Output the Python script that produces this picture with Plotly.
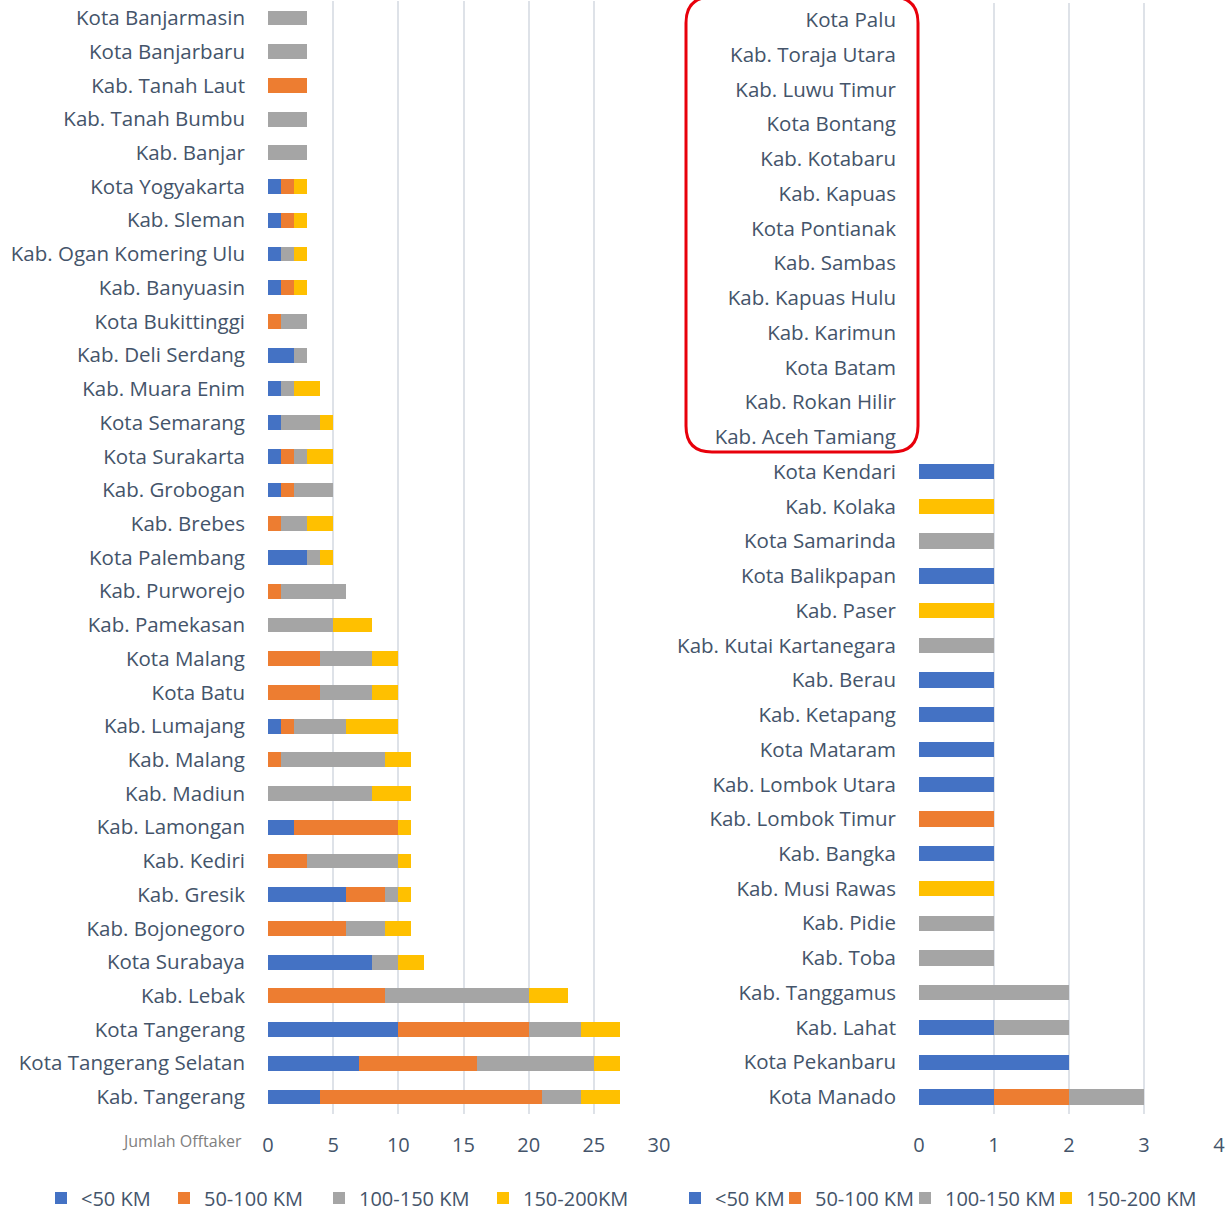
import plotly.graph_objects as go

# ---------------- data ----------------
left_categories = [
    "Kota Banjarmasin", "Kota Banjarbaru", "Kab. Tanah Laut", "Kab. Tanah Bumbu", "Kab. Banjar",
    "Kota Yogyakarta", "Kab. Sleman", "Kab. Ogan Komering Ulu", "Kab. Banyuasin", "Kota Bukittinggi",
    "Kab. Deli Serdang", "Kab. Muara Enim", "Kota Semarang", "Kota Surakarta", "Kab. Grobogan",
    "Kab. Brebes", "Kota Palembang", "Kab. Purworejo", "Kab. Pamekasan", "Kota Malang",
    "Kota Batu", "Kab. Lumajang", "Kab. Malang", "Kab. Madiun", "Kab. Lamongan",
    "Kab. Kediri", "Kab. Gresik", "Kab. Bojonegoro", "Kota Surabaya", "Kab. Lebak",
    "Kota Tangerang", "Kota Tangerang Selatan", "Kab. Tangerang",
]
left_lt50 =    [0, 0, 0, 0, 0, 1, 1, 1, 1, 0, 2, 1, 1, 1, 1, 0, 3, 0, 0, 0, 0, 1, 0, 0, 2, 0, 6, 0, 8, 0, 10, 7, 4]
left_50_100 =  [0, 0, 3, 0, 0, 1, 1, 0, 1, 1, 0, 0, 0, 1, 1, 1, 0, 1, 0, 4, 4, 1, 1, 0, 8, 3, 3, 6, 0, 9, 10, 9, 17]
left_100_150 = [3, 3, 0, 3, 3, 0, 0, 1, 0, 2, 1, 1, 3, 1, 3, 2, 1, 5, 5, 4, 4, 4, 8, 8, 0, 7, 1, 3, 2, 11, 4, 9, 3]
left_150_200 = [0, 0, 0, 0, 0, 1, 1, 1, 1, 0, 0, 2, 1, 2, 0, 2, 1, 0, 3, 2, 2, 4, 2, 3, 1, 1, 1, 2, 2, 3, 3, 2, 3]

right_categories = [
    "Kota Palu", "Kab. Toraja Utara", "Kab. Luwu Timur", "Kota Bontang", "Kab. Kotabaru",
    "Kab. Kapuas", "Kota Pontianak", "Kab. Sambas", "Kab. Kapuas Hulu", "Kab. Karimun",
    "Kota Batam", "Kab. Rokan Hilir", "Kab. Aceh Tamiang", "Kota Kendari", "Kab. Kolaka",
    "Kota Samarinda", "Kota Balikpapan", "Kab. Paser", "Kab. Kutai Kartanegara", "Kab. Berau",
    "Kab. Ketapang", "Kota Mataram", "Kab. Lombok Utara", "Kab. Lombok Timur", "Kab. Bangka",
    "Kab. Musi Rawas", "Kab. Pidie", "Kab. Toba", "Kab. Tanggamus", "Kab. Lahat",
    "Kota Pekanbaru", "Kota Manado",
]
right_lt50 =    [0]*13 + [1, 0, 0, 1, 0, 0, 1, 1, 1, 1, 0, 1, 0, 0, 0, 0, 1, 2, 1]
right_50_100 =  [0]*13 + [0, 0, 0, 0, 0, 0, 0, 0, 0, 0, 1, 0, 0, 0, 0, 0, 0, 0, 1]
right_100_150 = [0]*13 + [0, 0, 1, 0, 0, 1, 0, 0, 0, 0, 0, 0, 0, 1, 1, 2, 1, 0, 1]
right_150_200 = [0]*13 + [0, 1, 0, 0, 1, 0, 0, 0, 0, 0, 0, 0, 1, 0, 0, 0, 0, 0, 0]

left_names = ["<50 KM", "50-100 KM", "100-150 KM", "150-200KM"]
right_names = ["<50 KM", "50-100 KM", "100-150 KM", "150-200 KM"]
left_ticks = [0, 5, 10, 15, 20, 25, 30]
right_ticks = [0, 1, 2, 3, 4]
axis_note = "Jumlah Offtaker"

# ---------------- style ----------------
W, H = 1226, 1209
colors = ["#4472C4", "#ED7D31", "#A5A5A5", "#FFC000"]
FONT = "Open Sans"
TXT = "#44546A"
GRID = "#DEE2E8"

left_vals = [left_lt50, left_50_100, left_100_150, left_150_200]
right_vals = [right_lt50, right_50_100, right_100_150, right_150_200]
left_lw = [78, 110, 119, 110]
right_lw = [55, 85, 96, 130]

fig = go.Figure()
for i in range(4):
    fig.add_trace(go.Bar(
        y=left_categories, x=left_vals[i], name=left_names[i], orientation="h",
        marker=dict(color=colors[i], line=dict(width=0)),
        xaxis="x", yaxis="y", legend="legend", legendwidth=left_lw[i],
    ))
for i in range(4):
    fig.add_trace(go.Bar(
        y=right_categories, x=right_vals[i], name=right_names[i], orientation="h",
        marker=dict(color=colors[i], line=dict(width=0)),
        xaxis="x2", yaxis="y2", legend="legend2", legendwidth=right_lw[i],
    ))

def px_x(p):
    return p / W

def px_y(p):
    return 1 - p / H

# domains
lrow = (1097 - 18) / 32
rrow = (1097 - 20) / 31
ly0, ly1 = px_y(1097 + lrow / 2), px_y(18 - lrow / 2)
ry0, ry1 = px_y(1097 + rrow / 2), px_y(20 - rrow / 2)

common_x = dict(showgrid=True, gridcolor=GRID, gridwidth=2, zeroline=False, showline=False,
                ticks="", ticklabelstandoff=17,
                tickfont=dict(family=FONT, size=20, color=TXT))
common_y = dict(type="category", autorange="reversed", showgrid=False, zeroline=False,
                showline=False, ticks="", ticklabelstandoff=22,
                tickfont=dict(family=FONT, size=20.5, color=TXT))

fig.update_layout(
    width=W, height=H,
    margin=dict(l=0, r=0, t=0, b=0, autoexpand=False),
    paper_bgcolor="white", plot_bgcolor="white",
    barmode="stack", bargap=0.56,
    font=dict(family=FONT, color=TXT),
    xaxis=dict(domain=[px_x(268), px_x(659)], range=[0, 30], tickvals=left_ticks,
               anchor="y", **common_x),
    yaxis=dict(domain=[ly0, ly1], anchor="x", **common_y),
    xaxis2=dict(domain=[px_x(919), px_x(1219)], range=[0, 4], tickvals=right_ticks,
                anchor="y2", **common_x),
    yaxis2=dict(domain=[ry0, ry1], anchor="x2", **common_y),
    legend=dict(orientation="h", x=px_x(41), xanchor="left", y=px_y(1198), yanchor="middle",
                font=dict(family=FONT, size=20, color=TXT), bgcolor="rgba(0,0,0,0)",
                traceorder="normal", itemclick=False),
    legend2=dict(orientation="h", x=px_x(675), xanchor="left", y=px_y(1198), yanchor="middle",
                 font=dict(family=FONT, size=20, color=TXT), bgcolor="rgba(0,0,0,0)",
                 traceorder="normal", itemclick=False),
    showlegend=True,
)

fig.add_annotation(text=axis_note, xref="paper", yref="paper", x=px_x(244), y=px_y(1141),
                   xanchor="right", yanchor="middle", showarrow=False,
                   font=dict(family=FONT, size=16, color="#808080"))

# red rounded highlight box around the empty categories
x0, x1 = px_x(686), px_x(918)
y0, y1 = px_y(452), px_y(-3)
rx, ry = 26 / W, 26 / H
path = (f"M{x0 + rx},{y1} L{x1 - rx},{y1} Q{x1},{y1} {x1},{y1 - ry} "
        f"L{x1},{y0 + ry} Q{x1},{y0} {x1 - rx},{y0} L{x0 + rx},{y0} "
        f"Q{x0},{y0} {x0},{y0 + ry} L{x0},{y1 - ry} Q{x0},{y1} {x0 + rx},{y1} Z")
fig.add_shape(type="path", path=path, xref="paper", yref="paper",
              line=dict(color="#E8000B", width=3), fillcolor="rgba(0,0,0,0)")

fig.write_html("out.html", config={"displayModeBar": False},
               post_script="document.body.style.margin='0';")
